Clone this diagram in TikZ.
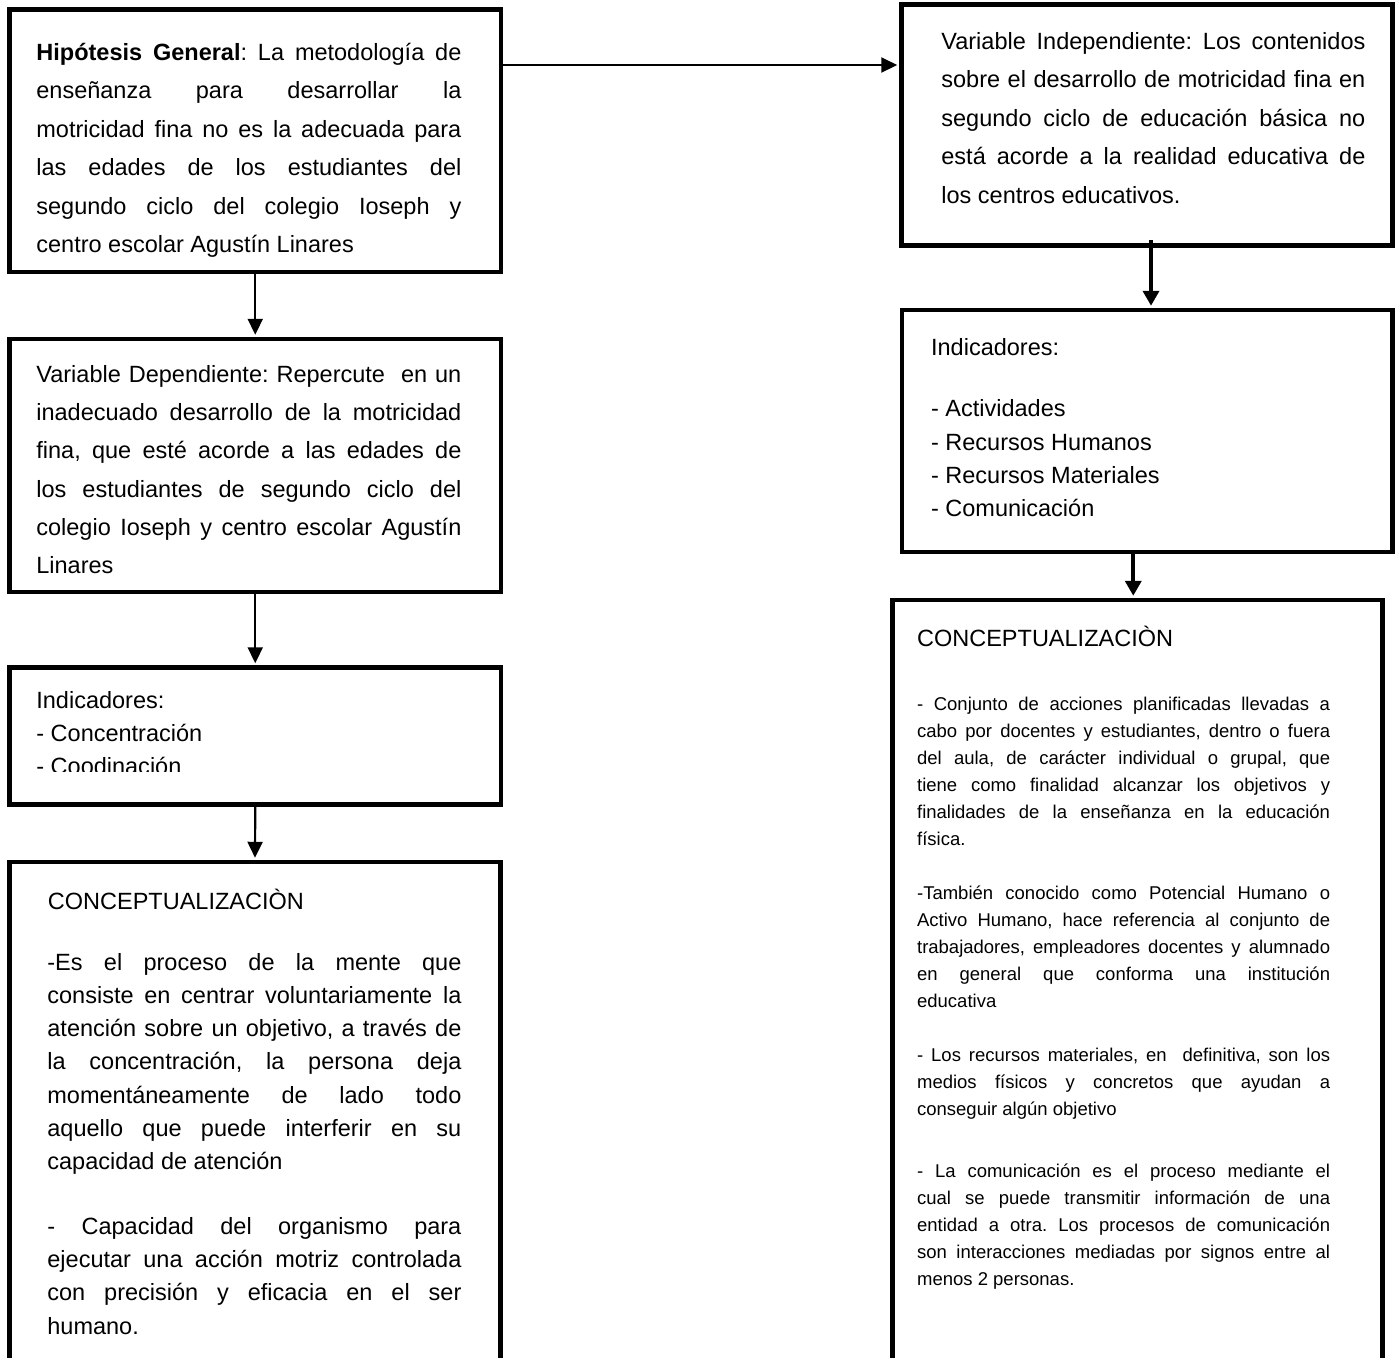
\documentclass[tikz,border=0pt]{standalone}
\usepackage{fontspec}
\setmainfont{Liberation Sans}
\usetikzlibrary{fit,arrows.meta,calc}

\newdimen\lw
\newcommand\jl[1]{\hbox to\lw{\frenchspacing\spaceskip=.278em plus 1fil\relax #1}}
\newcommand\nl[1]{\hbox{\frenchspacing #1}}
\newcommand\fA{\fontsize{11.75pt}{19.25pt}\selectfont}
\newcommand\fB{\fontsize{11.75pt}{19.05pt}\selectfont}
\newcommand\fM{\fontsize{11.75pt}{16.65pt}\selectfont}
\newcommand\fS{\fontsize{9.25pt}{13.55pt}\selectfont}
\newcommand\blk[2]{\vtop{\lineskiplimit=-\maxdimen\lw=#1\relax\hsize=\lw #2}}

\tikzset{
  box/.style={draw, line width=2.25pt, inner sep=0pt},
  txt/.style={anchor=base west, inner sep=0pt},
  arr/.style={line width=1.1pt, -{Triangle[length=8pt,width=7.5pt]}, shorten >=1pt},
  arrthick/.style={line width=2.2pt, -{Triangle[length=7.5pt,width=8pt]}, shorten >=1pt},
}

\begin{document}
\begin{tikzpicture}[x=0.5pt,y=-0.5pt]
\clip (0,0) rectangle (1400,1357);
\fill[white] (0,0) rectangle (1400,1357);

% ---------------- boxes
\node[box, fit={(9.5,9.5) (501,272)}] (A) {};
\node[box, fit={(9.5,339) (501,592)}] (B) {};
\node[box, fit={(9.5,667.5) (501,804.5)}] (C) {};
\node[box, fit={(9.5,862) (500.5,1420)}] (D) {};
\node[box, fit={(901.5,4.5) (1392.5,245.5)}] (E) {};
\node[box, fit={(902,310) (1392.5,552)}] (F) {};
\node[box, fit={(892.5,600) (1382.5,1420)}] (G) {};

% ---------------- texts
\node[txt] (tA) at (36,60) {\blk{212.5pt}{\fA
  \jl{\textbf{Hipótesis General}: La metodología de}
  \jl{enseñanza para desarrollar la}
  \jl{motricidad fina no es la adecuada para}
  \jl{las edades de los estudiantes del}
  \jl{segundo ciclo del colegio Ioseph y}
  \nl{centro escolar Agustín Linares}}};

\node[txt] (tB) at (36,382.7) {\blk{212.5pt}{\fB
  \jl{Variable Dependiente: Repercute\ \ en un}
  \jl{inadecuado desarrollo de la motricidad}
  \jl{fina, que esté acorde a las edades de}
  \jl{los estudiantes de segundo ciclo del}
  \jl{colegio Ioseph y centro escolar Agustín}
  \nl{Linares}}};

\begin{scope}
\clip (9.5,667.5) rectangle (501,771);
\node[txt] (tC) at (36,708.3) {\blk{212.5pt}{\fM
  \nl{Indicadores:}
  \nl{- Concentración}
  \nl{- Coodinación}}};
\end{scope}

\node[txt] (tD0) at (47.5,909.3) {\fA CONCEPTUALIZACIÒN};
\node[txt] (tD1) at (47,970) {\blk{207pt}{\fM
  \jl{-Es el proceso de la mente que}
  \jl{consiste en centrar voluntariamente la}
  \jl{atención sobre un objetivo, a través de}
  \jl{la concentración, la persona deja}
  \jl{momentáneamente de lado todo}
  \jl{aquello que puede interferir en su}
  \nl{capacidad de atención}}};
\node[txt] (tD2) at (47,1234.3) {\blk{207pt}{\fM
  \jl{- Capacidad del organismo para}
  \jl{ejecutar una acción motriz controlada}
  \jl{con precisión y eficacia en el ser}
  \nl{humano.}}};

\node[txt] (tE) at (941,49) {\blk{212pt}{\fA
  \jl{Variable Independiente: Los contenidos}
  \jl{sobre el desarrollo de motricidad fina en}
  \jl{segundo ciclo de educación básica no}
  \jl{está acorde a la realidad educativa de}
  \nl{los centros educativos.}}};

\node[txt] (tF0) at (930.7,355) {\fA Indicadores:};
\node[txt] (tF1) at (930.7,416.7) {\blk{200pt}{\fM
  \nl{- Actividades}
  \nl{- Recursos Humanos}
  \nl{- Recursos Materiales}
  \nl{- Comunicación}}};

\node[txt] (tG0) at (916.7,646.7) {\fA CONCEPTUALIZACIÒN};
\node[txt] (tG1) at (916.7,710) {\blk{206.5pt}{\fS
  \jl{- Conjunto de acciones planificadas llevadas a}
  \jl{cabo por docentes y estudiantes, dentro o fuera}
  \jl{del aula, de carácter individual o grupal, que}
  \jl{tiene como finalidad alcanzar los objetivos y}
  \jl{finalidades de la enseñanza en la educación}
  \nl{física.}}};
\node[txt] (tG2) at (916.7,899.3) {\blk{206.5pt}{\fS
  \jl{-También conocido como Potencial Humano o}
  \jl{Activo Humano, hace referencia al conjunto de}
  \jl{trabajadores, empleadores docentes y alumnado}
  \jl{en general que conforma una institución}
  \nl{educativa}}};
\node[txt] (tG3) at (916.7,1061.7) {\blk{206.5pt}{\fS
  \jl{- Los recursos materiales, en\ \ definitiva, son los}
  \jl{medios físicos y concretos que ayudan a}
  \nl{conseguir algún objetivo}}};
\node[txt] (tG4) at (916.7,1177.3) {\blk{206.5pt}{\fS
  \jl{- La comunicación es el proceso mediante el}
  \jl{cual se puede transmitir información de una}
  \jl{entidad a otra. Los procesos de comunicación}
  \jl{son interacciones mediadas por signos entre al}
  \nl{menos 2 personas.}}};

% ---------------- connectors
\draw[arr] (A.south) -- (B.north);
\draw[arr] (B.south) -- (C.north);
\draw[arr] (C.south) -- (D.north);

\coordinate (h) at ($(A.east)+(0,-75.75)$);
\draw[arr, line width=1pt] (h) -- (h -| E.west);

\coordinate (e1) at ($(E.south)+(4,-8)$);
\draw[arrthick] (e1) -- (e1 |- F.north);

\coordinate (f1) at ($(F.south)+(-14,0)$);
\draw[arrthick] (f1) -- (f1 |- G.north);
\end{tikzpicture}
\end{document}
